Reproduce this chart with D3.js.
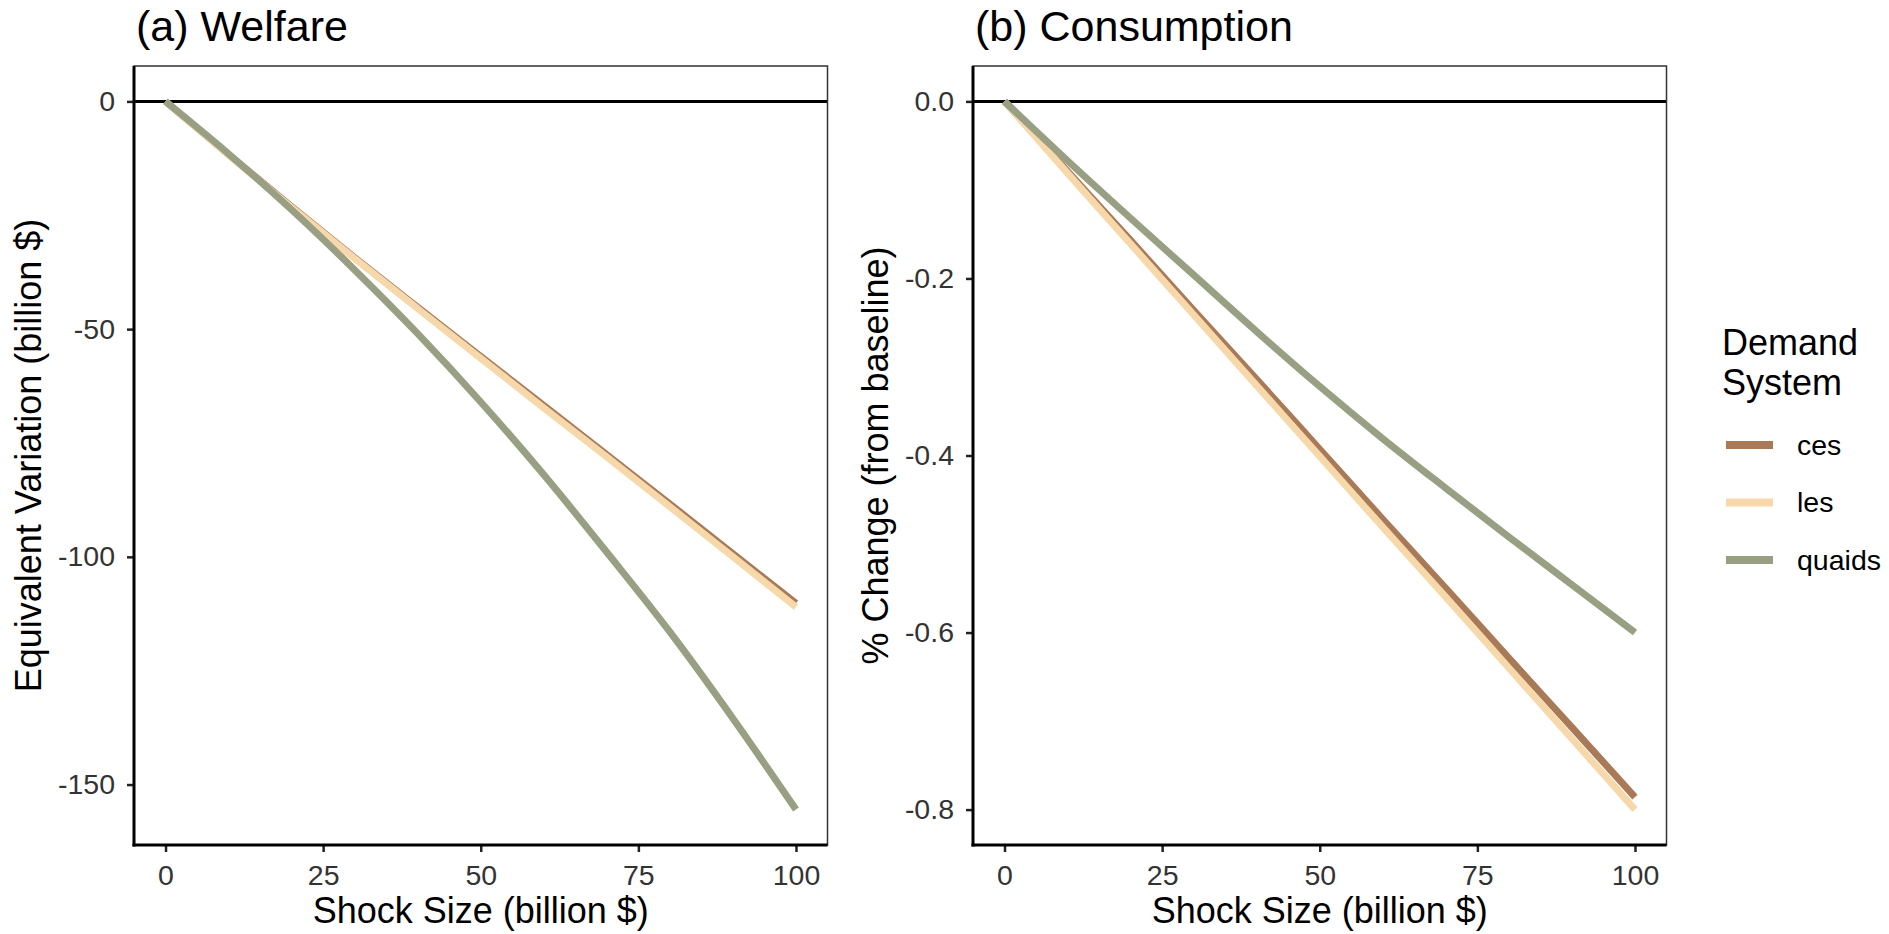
<!DOCTYPE html>
<html>
<head>
<meta charset="utf-8">
<script src="https://cdn.jsdelivr.net/npm/d3@7"></script>
<style>
  html, body { margin: 0; padding: 0; background: #fff; }
  svg { display: block; font-family: 'Liberation Sans', Arial, sans-serif; }
</style>
</head>
<body>
<div id="chart"></div>
<script>
// ── DATA ─────────────────────────────────────────────────────────────────────
const shockSize = [0, 10, 20, 30, 40, 50, 60, 70, 80, 90, 100];

// (a) Welfare: equivalent variation, billion $
const welfareCes    = [0, -11.7, -23.1, -34.3, -45.2, -56.0, -66.8, -77.6, -88.4, -99.3, -110.2];
const welfareLes    = [0, -11.8, -23.3, -34.5, -45.5, -56.4, -67.3, -78.1, -89.0, -100.0, -111.0];
const welfareQuaids = [0, -11.5, -23.8, -37.0, -51.0, -66.0, -82.0, -99.0, -116.5, -135.5, -155.5];

// (b) Consumption: % change from baseline
const consCes    = [0, -0.079, -0.157, -0.236, -0.314, -0.393, -0.472, -0.550, -0.629, -0.707, -0.786];
const consLes    = [0, -0.081, -0.161, -0.241, -0.321, -0.401, -0.481, -0.560, -0.640, -0.720, -0.800];
const consQuaids = [0, -0.067, -0.132, -0.196, -0.260, -0.322, -0.381, -0.437, -0.492, -0.546, -0.600];

const systems = ['ces', 'les', 'quaids'];

const xTicks      = [0, 25, 50, 75, 100];
const yTicksA     = [0, -50, -100, -150];
const yTicksB     = [0, -0.2, -0.4, -0.6, -0.8];

// ── CONFIG ───────────────────────────────────────────────────────────────────
const SYSTEM_COLOR = {
  ces:    '#a97a57',
  les:    '#f6d8ab',
  quaids: '#989f82'
};

const LINE_WIDTH = 7;
const FONT_TICK  = 28.5;
const FONT_AXIS  = 36;
const FONT_TITLE = 43;

// ── DIMENSIONS ───────────────────────────────────────────────────────────────
const W = 1889, H = 934;
const plotTop = 66, plotBottom = 845;
const panelW  = 693.5;

const panels = [
  {
    left: 134, title: '(a) Welfare', yLabel: 'Equivalent Variation (billion $)',
    series: { ces: welfareCes, les: welfareLes, quaids: welfareQuaids },
    yTicks: yTicksA, fmt: d => String(d)
  },
  {
    left: 973, title: '(b) Consumption', yLabel: '% Change (from baseline)',
    series: { ces: consCes, les: consLes, quaids: consQuaids },
    yTicks: yTicksB, fmt: d => d.toFixed(1)
  }
];

// ── SVG ──────────────────────────────────────────────────────────────────────
const svg = d3.select('#chart')
  .append('svg')
    .attr('width', W)
    .attr('height', H);

// ggplot-style 5% expansion of the data range
function expand(lo, hi) {
  const pad = (hi - lo) * 0.05;
  return [lo - pad, hi + pad];
}

// ── DRAW ONE PANEL ───────────────────────────────────────────────────────────
function drawPanel(p, i) {
  const x0 = p.left, x1 = p.left + panelW;

  const allY = systems.flatMap(s => p.series[s]).concat([0]);
  const x = d3.scaleLinear().domain(expand(d3.min(shockSize), d3.max(shockSize))).range([x0, x1]);
  const y = d3.scaleLinear().domain(expand(d3.min(allY), d3.max(allY))).range([plotBottom, plotTop]);

  const g = svg.append('g');

  g.append('defs').append('clipPath')
    .attr('id', `clip-${i}`)
    .append('rect')
      .attr('x', x0).attr('y', plotTop)
      .attr('width', panelW).attr('height', plotBottom - plotTop);

  // zero line
  g.append('line')
    .attr('x1', x0).attr('x2', x1)
    .attr('y1', y(0)).attr('y2', y(0))
    .attr('stroke', '#000')
    .attr('stroke-width', 3);

  // lines
  const line = d3.line()
    .x((d, j) => x(shockSize[j]))
    .y(d => y(d))
    .curve(d3.curveMonotoneX);

  const linesG = g.append('g').attr('clip-path', `url(#clip-${i})`);
  systems.forEach(s => {
    linesG.append('path')
      .attr('d', line(p.series[s]))
      .attr('fill', 'none')
      .attr('stroke', SYSTEM_COLOR[s])
      .attr('stroke-width', LINE_WIDTH)
      .attr('stroke-linejoin', 'round');
  });

  // panel border
  g.append('rect')
    .attr('x', x0).attr('y', plotTop)
    .attr('width', panelW).attr('height', plotBottom - plotTop)
    .attr('fill', 'none')
    .attr('stroke', '#333')
    .attr('stroke-width', 1.5);

  // ── AXES ──────────────────────────────────────────────────────────────────
  const xAxisG = g.append('g')
    .attr('transform', `translate(0,${plotBottom})`)
    .call(d3.axisBottom(x).tickValues(xTicks).tickSize(7).tickPadding(13));

  const yAxisG = g.append('g')
    .attr('transform', `translate(${x0},0)`)
    .call(d3.axisLeft(y).tickValues(p.yTicks).tickFormat(p.fmt).tickSize(7).tickPadding(12));

  [xAxisG, yAxisG].forEach(a => {
    a.select('.domain').remove();
    a.selectAll('.tick line').attr('stroke', '#222').attr('stroke-width', 2.5);
    a.selectAll('.tick text')
      .attr('fill', '#333')
      .attr('font-size', FONT_TICK)
      .attr('font-family', "'Liberation Sans', Arial, sans-serif");
  });

  // thick axis lines (left + bottom)
  g.append('line')
    .attr('x1', x0).attr('x2', x0)
    .attr('y1', plotTop).attr('y2', plotBottom + 1.5)
    .attr('stroke', '#000').attr('stroke-width', 3);
  g.append('line')
    .attr('x1', x0 - 1.5).attr('x2', x1)
    .attr('y1', plotBottom).attr('y2', plotBottom)
    .attr('stroke', '#000').attr('stroke-width', 3);

  // ── LABELS ────────────────────────────────────────────────────────────────
  g.append('text')
    .attr('x', x0 + 2)
    .attr('y', 41)
    .attr('font-size', FONT_TITLE)
    .attr('fill', '#000')
    .text(p.title);

  g.append('text')
    .attr('x', (x0 + x1) / 2)
    .attr('y', 923)
    .attr('text-anchor', 'middle')
    .attr('font-size', FONT_AXIS)
    .attr('fill', '#000')
    .text('Shock Size (billion $)');

  const tickTextW = d3.max(yAxisG.selectAll('.tick text').nodes(), n => n.getComputedTextLength());
  const yLabX = x0 - 19 - tickTextW - 17;
  g.append('text')
    .attr('transform', `translate(${yLabX},${(plotTop + plotBottom) / 2}) rotate(-90)`)
    .attr('text-anchor', 'middle')
    .attr('font-size', FONT_AXIS)
    .attr('fill', '#000')
    .text(p.yLabel);
}

panels.forEach(drawPanel);

// ── LEGEND ───────────────────────────────────────────────────────────────────
const legend = svg.append('g').attr('transform', 'translate(1722,0)');

legend.append('text')
  .attr('x', 0).attr('y', 355)
  .attr('font-size', FONT_AXIS)
  .text('Demand');
legend.append('text')
  .attr('x', 0).attr('y', 395)
  .attr('font-size', FONT_AXIS)
  .text('System');

const keyY = d3.scalePoint().domain(systems).range([445, 560]);

legend.selectAll('.key')
  .data(systems)
  .join('line')
    .attr('class', 'key')
    .attr('x1', 4).attr('x2', 51)
    .attr('y1', d => keyY(d)).attr('y2', d => keyY(d))
    .attr('stroke', d => SYSTEM_COLOR[d])
    .attr('stroke-width', LINE_WIDTH + 1);

legend.selectAll('.key-label')
  .data(systems)
  .join('text')
    .attr('class', 'key-label')
    .attr('x', 75)
    .attr('y', d => keyY(d))
    .attr('dy', '0.35em')
    .attr('font-size', FONT_TICK)
    .attr('fill', '#000')
    .text(d => d);
</script>
</body>
</html>
